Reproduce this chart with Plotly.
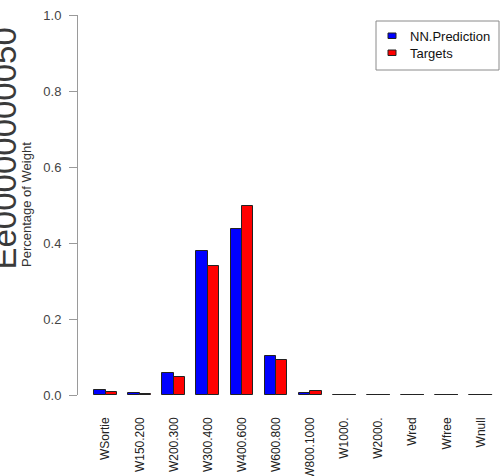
import plotly.graph_objects as go

# Share of weight per class, network prediction vs. targets
categories = ["WSortie", "W150.200", "W200.300", "W300.400", "W400.600", "W600.800",
              "W800.1000", "W1000.", "W2000.", "Wred", "Wfree", "Wnull"]
nn_prediction = [0.012, 0.004, 0.059, 0.380, 0.437, 0.103, 0.006, 0.0, 0.0, 0.0, 0.0, 0.0]
targets = [0.007, 0.003, 0.048, 0.340, 0.497, 0.092, 0.011, 0.0, 0.0, 0.0, 0.0, 0.0]
series_names = ["NN.Prediction", "Targets"]
y_ticks = [0.0, 0.2, 0.4, 0.6, 0.8, 1.0]

W, H = 501, 476
ML, MR, MT, MB = 78, 0, 15, 81
PW, PH = W - ML - MR, H - MT - MB
FONT = "Liberation Sans, Arial, Helvetica, sans-serif"

# barplot-style layout: each group is two unit-wide bars followed by one unit of space
centers = [3 * i + 2 for i in range(len(categories))]
blue_x = [c - 0.5 for c in centers]
red_x = [c + 0.5 for c in centers]


def px_x(p):
    return (p - ML) / PW


def px_y(p):
    return (H - MB - p) / PH


fig = go.Figure()
for xs, vals, col, name in [(blue_x, nn_prediction, "#0000FF", series_names[0]),
                            (red_x, targets, "#FF0000", series_names[1])]:
    fig.add_trace(go.Bar(x=xs, y=vals, width=1.0, name=name, showlegend=False,
                         marker=dict(color=col, line=dict(color="#222222", width=1))))
    # zero-height bars still show their outline as a flat stroke
    lx, ly = [], []
    for x, v in zip(xs, vals):
        if v == 0:
            lx += [x - 0.5, x + 0.5, None]
            ly += [v, v, None]
    fig.add_trace(go.Scatter(x=lx, y=ly, mode="lines", showlegend=False, hoverinfo="skip",
                             line=dict(color="#222222", width=1.6), cliponaxis=False))

fig.update_layout(
    width=W, height=H,
    margin=dict(l=ML, r=MR, t=MT, b=MB, autoexpand=False),
    paper_bgcolor="white", plot_bgcolor="white",
    bargap=0, barmode="overlay",
    font=dict(family=FONT, color="#333333"),
    xaxis=dict(range=[-0.42, 36.78], showgrid=False, zeroline=False, showline=False,
               automargin=False,
               tickmode="array", tickvals=centers, ticktext=categories, tickangle=-90,
               ticks="", ticklabelstandoff=19,
               tickfont=dict(size=12, color="#222222", family=FONT)),
    yaxis=dict(range=[0, 1], showgrid=False, zeroline=False, showline=True,
               automargin=False,
               linecolor="#9a9a9a", linewidth=1,
               tickmode="array", tickvals=y_ticks, ticktext=[f"{v:.1f}" for v in y_ticks],
               ticks="outside", ticklen=8, tickcolor="#9a9a9a", tickwidth=1,
               ticklabelstandoff=5,
               tickfont=dict(size=13, color="#444444", family=FONT)),
)

# axis title
fig.add_annotation(text="Percentage of Weight", xref="paper", yref="paper",
                   x=px_x(26), y=0.5, xanchor="center", yanchor="middle", textangle=-90,
                   showarrow=False, font=dict(size=13, color="#333333", family=FONT))

# margin text at the far left, running off the page edge
fig.add_annotation(text="Ee00000000050", xref="paper", yref="paper",
                   x=px_x(24), y=px_y(149), xanchor="right", yanchor="middle", textangle=-90,
                   showarrow=False, font=dict(size=33, color="#3a3a3a", family=FONT))

# legend box
fig.add_shape(type="rect", xref="paper", yref="paper",
              x0=px_x(376), x1=px_x(499), y0=px_y(70), y1=px_y(21),
              line=dict(color="#8a8a8a", width=1), fillcolor="white")
for (name, col), ytop in zip([(series_names[0], "#0000FF"), (series_names[1], "#FF0000")],
                             [33, 50]):
    fig.add_shape(type="rect", xref="paper", yref="paper",
                  x0=px_x(388), x1=px_x(396), y0=px_y(ytop + 5.5), y1=px_y(ytop),
                  line=dict(color="#222222", width=1), fillcolor=col)
    fig.add_annotation(text=name, xref="paper", yref="paper",
                       x=px_x(408), y=px_y(ytop + 4), xanchor="left", yanchor="middle",
                       showarrow=False, font=dict(size=13, color="#111111", family=FONT))

fig.write_html("out.html")
